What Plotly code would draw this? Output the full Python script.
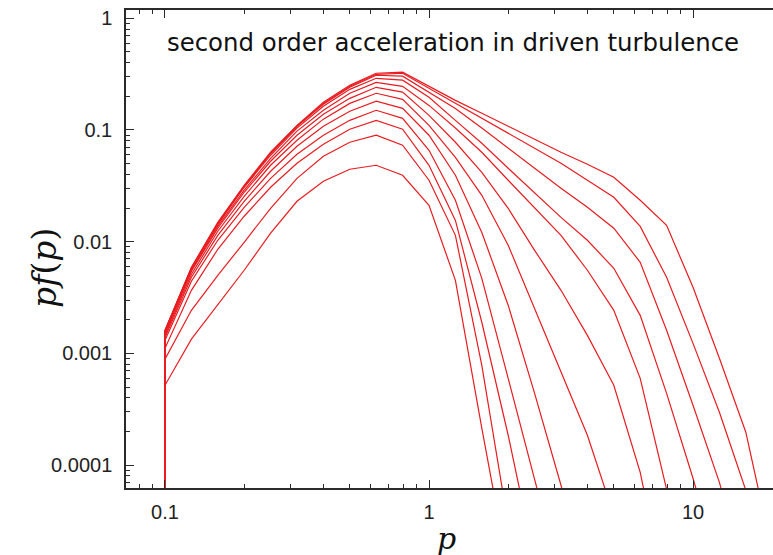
import plotly.graph_objects as go

# momentum grid (ten bins per decade)
p = [0.1, 0.1259, 0.1585, 0.1995, 0.2512, 0.3162, 0.3981, 0.5012, 0.6310, 0.7943,
     1.0, 1.259, 1.585, 1.995, 2.512, 3.162, 3.981, 5.012, 6.310, 7.943,
     10.0, 12.59, 15.85, 19.95]

# p f(p) at successive output times (earliest first); each list follows the grid
# until the curve has fallen below the plotted range
pf_t01 = [0.000518, 0.00134, 0.00275, 0.00555, 0.0119, 0.0230, 0.0347, 0.0445, 0.0483,
          0.0393, 0.0212, 0.00451, 0.000214, 1.14e-5]
pf_t02 = [0.000886, 0.00243, 0.00500, 0.00988, 0.0199, 0.0369, 0.0581, 0.0776, 0.0897,
          0.0730, 0.0355, 0.0114, 0.000782, 2.95e-5]
pf_t03 = [0.00111, 0.00367, 0.00855, 0.0169, 0.0307, 0.0503, 0.0745, 0.1015, 0.122,
          0.1015, 0.0483, 0.0155, 0.00190, 0.000185, 1.4e-5]
pf_t04 = [0.00131, 0.00442, 0.0103, 0.0203, 0.0369, 0.0606, 0.0897, 0.122, 0.150,
          0.127, 0.0658, 0.0235, 0.00470, 0.000598, 7.46e-5, 9.3e-6]
pf_t05 = [0.00139, 0.00480, 0.0114, 0.0230, 0.0427, 0.0715, 0.108, 0.147, 0.181,
          0.156, 0.0897, 0.0393, 0.0121, 0.00270, 0.000439, 6.6e-5, 9.3e-6]
pf_t06 = [0.00145, 0.00511, 0.0124, 0.0255, 0.0483, 0.0809, 0.125, 0.173, 0.213,
          0.188, 0.110, 0.0569, 0.0260, 0.00929, 0.00253, 0.000706, 0.000185, 3.55e-5]
pf_t07 = [0.00151, 0.00543, 0.0132, 0.0277, 0.0525, 0.0897, 0.138, 0.192, 0.241,
          0.218, 0.135, 0.0776, 0.0418, 0.0199, 0.00837, 0.00367, 0.00145, 0.000518,
          8.62e-5, 6.16e-6]
pf_t08 = [0.00155, 0.00555, 0.0137, 0.0289, 0.0558, 0.0977, 0.150, 0.213, 0.267,
          0.246, 0.166, 0.104, 0.0632, 0.0355, 0.0199, 0.0114, 0.00555, 0.00243,
          0.000598, 5.95e-5, 6.16e-6]
pf_t09 = [0.00158, 0.00578, 0.0143, 0.0307, 0.0594, 0.104, 0.163, 0.231, 0.290,
          0.279, 0.196, 0.122, 0.0760, 0.0454, 0.0271, 0.0165, 0.0103, 0.00578,
          0.00219, 0.000439, 7.62e-5, 1.14e-5]
pf_t10 = [0.00158, 0.00578, 0.0146, 0.0313, 0.0619, 0.108, 0.170, 0.241, 0.309,
          0.303, 0.218, 0.156, 0.104, 0.0686, 0.0454, 0.0301, 0.0203, 0.0132,
          0.00654, 0.00161, 0.000343, 7.01e-5, 9.3e-6]
pf_t11 = [0.00161, 0.00578, 0.0146, 0.0313, 0.0619, 0.108, 0.173, 0.246, 0.315,
          0.322, 0.236, 0.173, 0.127, 0.0934, 0.0686, 0.0503, 0.0355, 0.0250,
          0.0137, 0.00480, 0.00123, 0.000297, 5.95e-5, 6.16e-6]
pf_t12 = [0.00161, 0.00590, 0.0149, 0.0320, 0.0632, 0.110, 0.177, 0.251, 0.322,
          0.329, 0.246, 0.184, 0.141, 0.108, 0.0825, 0.0632, 0.0493, 0.0377,
          0.0235, 0.0140, 0.00391, 0.000904, 0.000197, 1.66e-5]

series = [pf_t01, pf_t02, pf_t03, pf_t04, pf_t05, pf_t06,
          pf_t07, pf_t08, pf_t09, pf_t10, pf_t11, pf_t12]

# nothing is present below the injection momentum
pf_below_injection = 1e-7

x_tickvals = [0.1, 1, 10]
x_ticktext = ["0.1", "1", "10"]
y_tickvals = [0.0001, 0.001, 0.01, 0.1, 1]
y_ticktext = ["0.0001", "0.001", "0.01", "0.1", "1"]

LINE_RED = "rgb(232,28,32)"
AXIS_COL = "#2a2a2a"

fig = go.Figure()
for vals in series:
    xs = [p[0]] + p[:len(vals)]
    ys = [pf_below_injection] + vals
    fig.add_trace(go.Scatter(x=xs, y=ys, mode="lines",
                             line=dict(color=LINE_RED, width=1.2),
                             showlegend=False, hoverinfo="skip"))

tick_font = dict(family="Liberation Sans, Arial, sans-serif", size=20, color="#222222")

fig.update_layout(
    width=773, height=555,
    margin=dict(l=126, r=0, t=10, b=67, pad=0),
    paper_bgcolor="white", plot_bgcolor="white",
    showlegend=False,
    xaxis=dict(
        type="log", range=[-1.1477, 1.3030], automargin=False,
        showgrid=False, zeroline=False,
        showline=True, linecolor=AXIS_COL, linewidth=1.5, mirror="ticks",
        ticks="inside", ticklen=8, tickwidth=1, tickcolor=AXIS_COL,
        tickmode="array", tickvals=x_tickvals, ticktext=x_ticktext,
        tickfont=tick_font, ticklabelstandoff=5,
        minor=dict(ticks="inside", ticklen=4, tickcolor=AXIS_COL, dtick="D1", showgrid=False),
    ),
    yaxis=dict(
        type="log", range=[-4.205, 0.074], automargin=False,
        showgrid=False, zeroline=False,
        showline=True, linecolor=AXIS_COL, linewidth=1.5, mirror=False,
        ticks="inside", ticklen=8, tickwidth=1, tickcolor=AXIS_COL,
        tickmode="array", tickvals=y_tickvals, ticktext=y_ticktext,
        tickfont=tick_font, ticklabelstandoff=8,
        minor=dict(ticks="inside", ticklen=4, tickcolor=AXIS_COL, dtick="D1", showgrid=False),
    ),
)

fig.add_annotation(
    text="second order acceleration in driven turbulence",
    xref="paper", yref="paper", x=0.506, y=0.933,
    showarrow=False, xanchor="center", yanchor="middle",
    font=dict(family="DejaVu Sans, Verdana, sans-serif", size=24.4, color="#111111"),
)
fig.add_annotation(
    text="<i>pf</i>(<i>p</i>)",
    xref="paper", yref="paper", x=-0.127, y=0.46,
    showarrow=False, xanchor="center", yanchor="middle", textangle=-90,
    font=dict(family="DejaVu Serif, Liberation Serif, serif", size=33, color="#111111"),
)
fig.add_annotation(
    text="<i>p</i>",
    xref="paper", yref="paper", x=0.495, y=-0.105,
    showarrow=False, xanchor="center", yanchor="middle",
    font=dict(family="DejaVu Serif, Liberation Serif, serif", size=30, color="#111111"),
)

fig.write_html("out.html")
